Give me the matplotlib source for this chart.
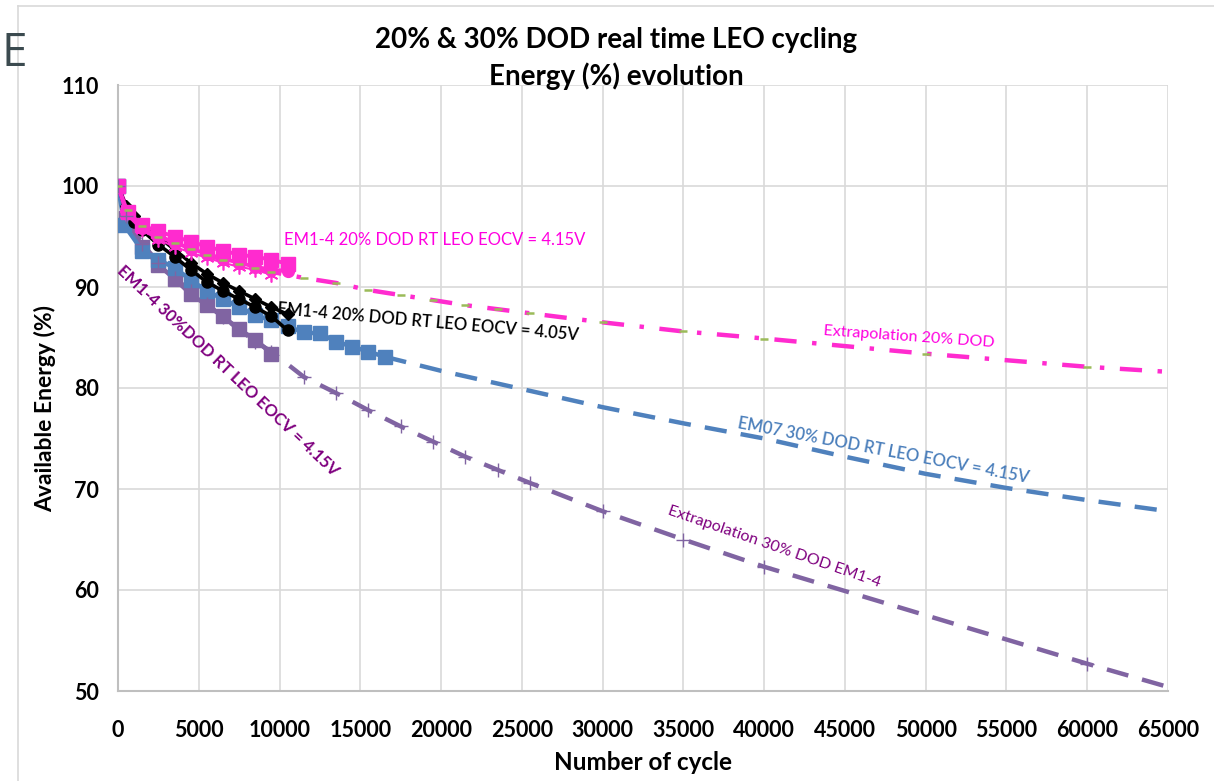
import matplotlib.pyplot as plt
from matplotlib.lines import Line2D

plt.rcParams['font.family'] = ['Lato', 'DejaVu Sans']

# ---------------- measured data (cycles / available energy %) ----------------
pink_sq_cyc = [0, 600, 1500, 2500, 3500, 4500, 5500, 6500, 7500, 8500, 9500, 10500]
pink_sq_val = [100, 97.4, 96.1, 95.5, 95.0, 94.5, 94.0, 93.6, 93.2, 93.0, 92.7, 92.3]

pink_ci_cyc = [0, 500, 1500, 2500, 3500, 4500, 5500, 6500, 7500, 8500, 9500, 10500]
pink_ci_val = [100, 97.5, 95.8, 95.0, 94.4, 93.8, 93.3, 92.8, 92.4, 92.0, 91.7, 91.6]

pink_st_cyc = [0, 500, 1500, 2500, 3500, 4500, 5500, 6500, 7500, 8500, 9500]
pink_st_val = [100, 97.2, 95.6, 94.7, 94.0, 93.4, 92.9, 92.4, 92.0, 91.7, 91.2]

black_di_cyc = [0, 500, 1000, 1500, 2500, 3500, 4500, 5500, 6500, 7500, 8500, 9500, 10500]
black_di_val = [100, 98.0, 97.0, 96.2, 95.0, 93.7, 92.4, 91.3, 90.4, 89.6, 88.8, 88.0, 87.3]

black_ci_cyc = [0, 500, 1000, 1500, 2500, 3500, 4500, 5500, 6500, 7500, 8500, 9500, 10500]
black_ci_val = [100, 97.5, 96.4, 95.6, 94.2, 93.0, 91.7, 90.5, 89.6, 88.8, 88.0, 87.1, 85.7]

blue_cyc = [0, 400, 1500, 2500, 3500, 4500, 5500, 6500, 7500, 8500, 9500, 10500,
            11500, 12500, 13500, 14500, 15500, 16500]
blue_val = [100, 96.1, 93.6, 92.7, 91.9, 90.7, 89.6, 88.8, 88.0, 87.2, 86.7, 86.1,
            85.5, 85.4, 84.6, 84.1, 83.6, 83.1]

purple_cyc = [0, 500, 1500, 2500, 3500, 4500, 5500, 6500, 7500, 8500, 9500]
purple_val = [100, 96.8, 94.0, 92.2, 90.8, 89.3, 88.2, 87.1, 85.8, 84.8, 83.4]

# ---------------- extrapolations ----------------
ext20_cyc = [0, 600, 1500, 2500, 3500, 4500, 5500, 6500, 7500, 8500, 9500, 11500, 13500,
             15500, 17500, 19500, 21500, 23500, 25500, 30000, 35000, 40000, 50000, 60000, 65000]
ext20_val = [100, 97.6, 96.0, 95.0, 94.4, 93.8, 93.2, 92.7, 92.3, 91.9, 91.5, 90.9, 90.4,
             89.7, 89.2, 88.7, 88.2, 87.8, 87.4, 86.5, 85.6, 84.9, 83.4, 82.1, 81.6]

ext30_cyc = [0, 500, 1500, 2500, 3500, 4500, 5500, 6500, 7500, 8500, 9500, 11500, 13500,
             15500, 17500, 19500, 21500, 23500, 25500, 30000, 35000, 40000, 60000, 65000]
ext30_val = [100, 97.0, 94.3, 92.4, 90.9, 89.6, 88.3, 87.0, 85.8, 84.6, 83.6, 81.1, 79.5,
             77.8, 76.2, 74.7, 73.2, 71.9, 70.6, 67.8, 65.0, 62.3, 52.7, 50.4]

em07_ext_cyc = [16500, 20000, 25000, 30000, 35000, 40000, 45000, 50000, 55000, 60000, 65000]
em07_ext_val = [83.1, 81.7, 79.9, 78.1, 76.5, 75.0, 73.2, 71.5, 70.1, 68.9, 67.8]

PINK = '#FF2BCF'
BLUE = '#4F81BD'
PURPLE = '#8064A2'
GREEN = '#9BBB59'

fig = plt.figure(figsize=(12.14, 7.81), dpi=100)
ax = fig.add_axes([118 / 1214, 1 - 691 / 781, 1050 / 1214, 606 / 781])

# extrapolation lines (behind the measurements)
ax.plot(em07_ext_cyc, em07_ext_val, color=BLUE, lw=3.2, dashes=(5, 3.2), zorder=2)
ax.plot(ext30_cyc, ext30_val, color=PURPLE, lw=3.2, dashes=(5, 3.2), zorder=2)
ax.plot(ext20_cyc, ext20_val, color=PINK, lw=3.2, dashes=(5, 3.5, 1, 3.5), zorder=2)

# measured cycling data
ax.plot(purple_cyc, purple_val, color=PURPLE, lw=3.2, marker='s', ms=10.5, zorder=3)
ax.plot(blue_cyc, blue_val, color=BLUE, lw=3.2, marker='s', ms=10.5, zorder=4)
ax.plot(black_ci_cyc, black_ci_val, color='black', lw=2.6, marker='o', ms=8, zorder=5)
ax.plot(black_di_cyc, black_di_val, color='black', lw=2.6, marker='D', ms=6.5, zorder=5)
ax.plot(pink_sq_cyc, pink_sq_val, color=PINK, lw=2.8, marker='s', ms=10, zorder=6)
ax.plot(pink_ci_cyc, pink_ci_val, color=PINK, lw=2.8, marker='o', ms=8.5, zorder=6)
ax.plot(pink_st_cyc, pink_st_val, color=PINK, lw=1.5, marker=(6, 2, 0), ms=10,
        mew=1.2, zorder=6)

# extrapolation point markers
ax.plot(ext30_cyc[:-1], ext30_val[:-1], ls='none', marker='+', ms=10, mew=1.0,
        color=PURPLE, zorder=7)
ax.plot(ext20_cyc[:-1], ext20_val[:-1], ls='none', marker='_', ms=5.5, mew=1.8,
        color=GREEN, zorder=7)

ax.set_xlim(0, 65000)
ax.set_ylim(50, 110)
ax.set_xticks(range(0, 65001, 5000))
ax.set_yticks(range(50, 111, 10))
ax.grid(True, color='#D9D9D9', lw=1.2)
ax.set_axisbelow(True)
for s in ['top', 'right']:
    ax.spines[s].set_visible(False)
for s in ['left', 'bottom']:
    ax.spines[s].set_color('#BFBFBF')
    ax.spines[s].set_linewidth(1.5)
ax.tick_params(length=0, labelsize=15.5)
ax.tick_params(axis='x', pad=21)
ax.tick_params(axis='y', pad=14)
for lbl in ax.get_xticklabels() + ax.get_yticklabels():
    lbl.set_fontweight('bold')

# series labels
ax.text(19600, 94.65, 'EM1-4 20% DOD RT LEO EOCV = 4.15V', color='#FF00E0',
        fontsize=12, ha='center', va='center')
ax.text(19190, 86.5, 'EM1-4 20% DOD RT LEO EOCV = 4.05V', color='black',
        fontsize=12, fontweight='semibold', ha='center', va='center',
        rotation=-5, rotation_mode='anchor')
ax.text(48966, 85.05, 'Extrapolation 20% DOD', color='#FF00E0',
        fontsize=11.5, ha='center', va='center', rotation=-4, rotation_mode='anchor')
ax.text(47388, 73.8, 'EM07 30% DOD RT LEO EOCV = 4.15V', color='#4A7EBB',
        fontsize=12, fontweight='semibold', ha='center', va='center',
        rotation=-10.7, rotation_mode='anchor')
ax.text(40610, 64.26, 'Extrapolation 30% DOD EM1-4', color='#7F007F',
        fontsize=11.5, ha='center', va='center', rotation=-19, rotation_mode='anchor')
ax.text(6810, 81.7, 'EM1-4 30%DOD RT LEO EOCV = 4.15V', color='#7F007F',
        fontsize=12, fontweight='bold', ha='center', va='center',
        rotation=-43.4, rotation_mode='anchor')

# titles and axis labels
fig.text(616 / 1214, 1 - 40 / 781, '20% & 30% DOD real time LEO cycling',
         fontsize=20, fontweight='bold', ha='center', va='center')
fig.text(616 / 1214, 1 - 76 / 781, 'Energy (%) evolution',
         fontsize=20, fontweight='bold', ha='center', va='center')
fig.text(45 / 1214, 1 - 409 / 781, 'Available Energy (%)', fontsize=16.5,
         fontweight='bold', rotation=90, ha='center', va='center')
fig.text(643 / 1214, 1 - 762 / 781, 'Number of cycle', fontsize=17.5,
         fontweight='bold', ha='center', va='center')

# chart frame and the stray slide letter on the left
fig.add_artist(Line2D([17.5 / 1214, 1], [1 - 6 / 781] * 2, color='#D9D9D9', lw=1.2))
fig.add_artist(Line2D([17.5 / 1214] * 2, [0, 1 - 6 / 781], color='#D9D9D9', lw=1.2))
fig.text(2 / 1214, 1 - 54 / 781, 'E', fontsize=33, color='#3B4A4F',
         family='Open Sans', ha='left', va='center')

fig.savefig('out.png', dpi=100)
